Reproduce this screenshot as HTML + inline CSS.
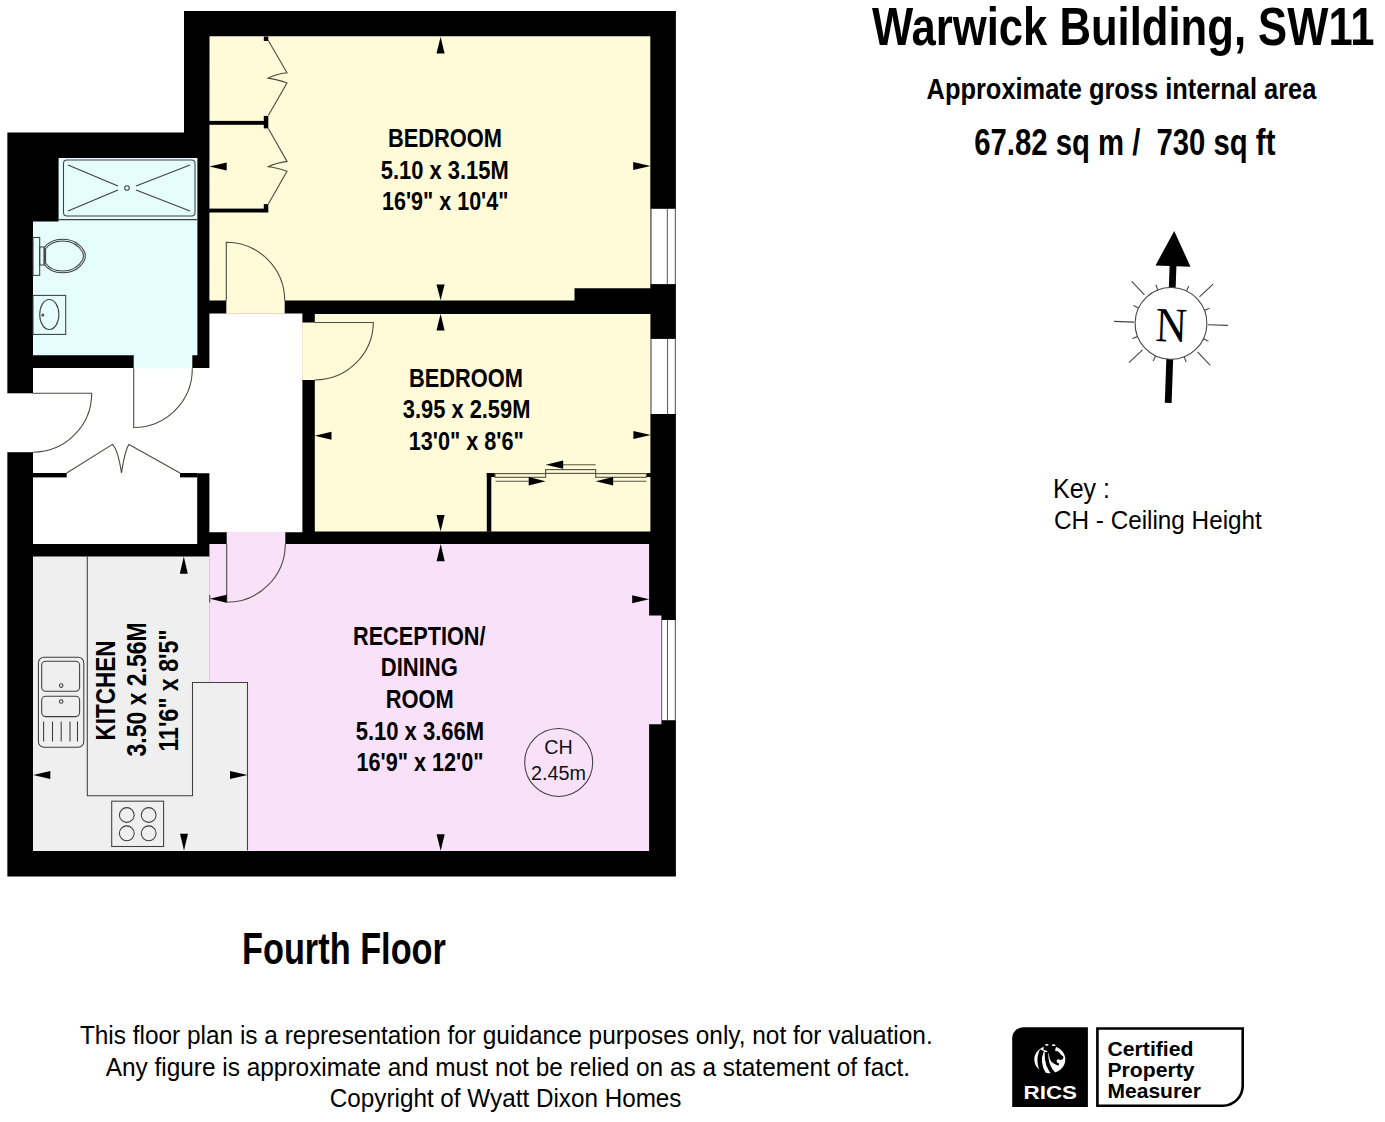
<!DOCTYPE html>
<html><head><meta charset="utf-8">
<style>
html,body{margin:0;padding:0;background:#fff;width:1385px;height:1122px;overflow:hidden;}
svg{display:block}
text{font-family:"Liberation Sans",sans-serif;}
.b{font-weight:bold}
</style></head><body>
<svg width="1385" height="1122" viewBox="0 0 1385 1122">
<rect width="1385" height="1122" fill="#fff"/>
<!-- building footprint -->
<polygon points="7.35,132.6 184,132.6 184,10.9 675.9,10.9 675.9,876.4 7.35,876.4" fill="#000"/>
<!-- entry gap -->
<rect x="7" y="393.3" width="26" height="58.9" fill="#fff"/>

<!-- hall -->
<polygon fill="#fff" points="33,368 209.4,368 209.4,313.4 302.4,313.4 302.4,532.3 209.4,532.3 209.4,473.2 197.2,473.2 197.2,543.9 33,543.9"/>
<!-- bathroom -->
<polygon fill="#E6FDFE" points="58.6,157.9 197.4,157.9 197.4,355.2 192.3,355.2 192.3,368.3 133.7,368.3 133.7,355.2 33,355.2 33,221.4 58.6,221.4"/>
<!-- bedroom 1 -->
<polygon fill="#FFFAD8" points="209.5,36.2 650.3,36.2 650.3,288.3 574.5,288.3 574.5,300.5 284.7,300.5 284.7,313.7 226.3,313.7 226.3,300.5 209.4,300.5"/>
<!-- bedroom 2 -->
<polygon fill="#FFFAD8" points="314.8,313.9 650.4,313.9 650.4,531.4 314.8,531.4 314.8,380 302.1,380 302.1,322.5 314.8,322.5"/>
<!-- reception -->
<polygon fill="#FAE1FA" points="209.4,544 226.7,544 226.7,532 285.3,532 285.3,544 649.1,544 649.1,615.6 661.4,615.6 661.4,724.2 649.1,724.2 649.1,850.9 209.4,850.9"/>
<!-- kitchen -->
<polygon fill="#EFEFEF" points="33,556.6 209.7,556.6 209.7,682.5 247.5,682.5 247.5,850.9 33,850.9"/>
<!-- windows -->
<g fill="#fff">
<rect x="650.6" y="208.8" width="25.2" height="75.3"/>
<rect x="650.4" y="338.9" width="25.4" height="75.1"/>
<rect x="661.1" y="620" width="14.7" height="100.2"/>
</g>
<g stroke="#555" stroke-width="1">
<line x1="651.1" y1="208.8" x2="651.1" y2="284.1"/>
<line x1="667.3" y1="208.8" x2="667.3" y2="284.1"/>
<line x1="675.3" y1="208.8" x2="675.3" y2="284.1"/>
<line x1="651.1" y1="338.9" x2="651.1" y2="414"/>
<line x1="667.6" y1="338.9" x2="667.6" y2="414"/>
<line x1="675.3" y1="338.9" x2="675.3" y2="414"/>
<line x1="661.7" y1="620" x2="661.7" y2="720.2"/>
<line x1="667.5" y1="620" x2="667.5" y2="720.2"/>
<line x1="675.3" y1="620" x2="675.3" y2="720.2"/>
</g>

<!-- cupboard walls -->
<g fill="#000">
<rect x="33" y="473" width="33.7" height="4.4"/>
<rect x="180" y="473" width="17.4" height="4.4"/>
<!-- bedroom1 wardrobe shelves -->
<rect x="209" y="120.9" width="55" height="3.9"/>
<rect x="209" y="208.6" width="55" height="3.9"/>
<rect x="263.8" y="36.5" width="4.5" height="4.5"/>
<rect x="263.8" y="115.9" width="4.5" height="12.5"/>
<rect x="263.8" y="204.1" width="4.5" height="8.4"/>
<!-- bedroom2 wardrobe -->
<rect x="486.8" y="473.1" width="4.5" height="58.6"/>
<rect x="486.8" y="473.1" width="8.2" height="3.9"/>
<rect x="646.4" y="473.1" width="4.4" height="3.9"/>
</g>

<!-- door leaves & arcs -->
<g fill="none" stroke="#4d4a42" stroke-width="1.1">
<!-- entry -->
<path d="M32.8,393.3 H91.7 A58.9,58.9 0 0 1 32.8,452.2"/>
<!-- bathroom -->
<path d="M133.7,368.3 V427.5 A58.6,58.6 0 0 0 192.3,368.3"/>
<!-- bedroom1 -->
<path d="M226.3,300.7 V242.3 A58.4,58.4 0 0 1 284.7,300.7"/>
<!-- bedroom2 -->
<path d="M314.8,322.5 H373.4 A58.6,58.6 0 0 1 314.8,380"/>
<!-- reception/kitchen door -->
<path d="M226.7,543.9 V602.3 A58.6,58.6 0 0 0 285.3,543.9"/>
<line x1="209.7" y1="595" x2="209.7" y2="602.5"/>
<!-- cupboard bifold -->
<path d="M66.7,473 L112.5,444.4 Q118,450 121.5,473 Q125,450 129,444.4 L180,473"/>
<!-- bedroom1 bifold -->
<path d="M268.3,40.5 L287,72.8 Q276,74 268.3,78.1 Q276,79 287,83 L268.3,115.6"/>
<path d="M268.3,128.5 L287,161.4 Q276,163 268.3,166.7 Q276,167.5 287,171.2 L268.3,204.1"/>
</g>
<!-- sliding doors bedroom 2 -->
<g fill="none" stroke="#5a5540" stroke-width="1.15">
<rect x="495" y="473.6" width="50.6" height="3.7"/>
<rect x="545.6" y="469.6" width="50.1" height="3.8"/>
<rect x="595.7" y="473.6" width="50.7" height="3.7"/>
<line x1="563" y1="464.7" x2="595.7" y2="464.7"/>
<line x1="495.6" y1="481.2" x2="528.7" y2="481.2"/>
<line x1="613.2" y1="481.2" x2="646.4" y2="481.2"/>
</g>
<g fill="#000">
<polygon points="545.6,464.7 563.2,460.4 563.2,468.8"/>
<polygon points="545.6,481.2 528.7,477 528.7,485.4"/>
<polygon points="595.7,481.2 613.2,477 613.2,485.4"/>
</g>

<!-- bathroom fixtures -->
<g fill="none" stroke="#3e3e3e" stroke-width="1.05">
<line x1="58.6" y1="219.6" x2="197.3" y2="219.6"/>
<rect x="63.5" y="160" width="131.5" height="56" rx="3.5"/>
<path d="M68,165 L118,186 M68,211 L118,190 M190,165 L136,186 M190,211 L136,190"/>
<circle cx="127" cy="188" r="2.3"/>
<rect x="33" y="237.5" width="6.7" height="37.9"/>
<rect x="39.7" y="247" width="4.9" height="18"/>
<path d="M44,248 V264 Q50,273 63,272.8 Q78,272.5 84.6,260 Q86,256 84.6,252 Q78,239.5 63,239.3 Q50,239.3 44,248 Z"/>
<path d="M45.6,249 V263 Q51,271.2 63,271 Q76.5,270.8 82.8,259.5 Q84,256 82.8,252.5 Q76.5,241.3 63,241.1 Q51,241.1 45.6,249 Z"/>
<rect x="33" y="295.4" width="32.7" height="39"/>
<ellipse cx="49.3" cy="314.5" rx="9.6" ry="15"/>
<circle cx="42.8" cy="315" r="1"/>
</g>

<!-- kitchen fixtures -->
<g fill="none" stroke="#3e3e3e" stroke-width="1.05">
<path d="M87.3,556.6 V795.8 H192.5 V682.5 H247.5 V850.4"/>
<rect x="38.4" y="657.3" width="45.4" height="90" rx="5.6"/>
<rect x="41.7" y="661.2" width="37.9" height="30" rx="4"/>
<rect x="41.7" y="696.3" width="37.9" height="20.3" rx="4"/>
<circle cx="61.2" cy="685.6" r="1.8"/>
<circle cx="61.2" cy="701.5" r="1.8"/>
<path d="M43.6,721.6 V741.5 M52.5,721.6 V741.5 M61.2,721.6 V741.5 M70,721.6 V741.5 M77.5,721.6 V741.5"/>
<rect x="111.7" y="801.2" width="51.9" height="45.3"/>
<circle cx="126.8" cy="815" r="7.4"/>
<circle cx="148.7" cy="815" r="7.4"/>
<circle cx="126.8" cy="833.3" r="7.4"/>
<circle cx="148.7" cy="833.3" r="7.4"/>
<circle cx="558.7" cy="762.4" r="34"/>
</g>

<!-- dimension arrows -->
<g fill="#000">
<!-- bedroom1 -->
<polygon points="440.6,36.7 436.5,53.5 444.6,53.5"/>
<polygon points="440.6,300.3 436.5,284.4 444.6,284.4"/>
<polygon points="209.4,166.5 226.7,162.5 226.7,170.5"/>
<polygon points="650.6,166 633.2,162 633.2,170"/>
<!-- bedroom2 -->
<polygon points="440.6,313.7 436.5,330.5 444.6,330.5"/>
<polygon points="440.6,531.4 436.5,515 444.6,515"/>
<polygon points="314.8,435.7 331.5,431.7 331.5,439.7"/>
<polygon points="650.8,435.1 633.4,431.1 633.4,439.1"/>
<!-- reception -->
<polygon points="440.7,544 436.6,561.3 444.7,561.3"/>
<polygon points="440.7,850.8 436.6,834.2 444.7,834.2"/>
<polygon points="209.7,598.8 226.7,594.8 226.7,602.8"/>
<polygon points="649.2,599.3 632.2,595.3 632.2,603.3"/>
<!-- kitchen -->
<polygon points="183.8,556.6 179.8,573.8 187.8,573.8"/>
<polygon points="184,850.4 180,833.7 188,833.7"/>
<polygon points="33.2,775 50.3,771 50.3,779"/>
<polygon points="247.5,775 230,771 230,779"/>
</g>

<!-- room labels -->
<g class="b" font-size="25" text-anchor="middle" fill="#000" transform="translate(0,0.4)">
<text x="444.9" y="147.1" textLength="114" lengthAdjust="spacingAndGlyphs">BEDROOM</text>
<text x="444.7" y="178.5" textLength="128" lengthAdjust="spacingAndGlyphs">5.10 x 3.15M</text>
<text x="445.2" y="209.9" textLength="126.5" lengthAdjust="spacingAndGlyphs">16'9" x 10'4"</text>
<text x="466" y="386.5" textLength="114" lengthAdjust="spacingAndGlyphs">BEDROOM</text>
<text x="466.6" y="417.4" textLength="127.6" lengthAdjust="spacingAndGlyphs">3.95 x 2.59M</text>
<text x="466.2" y="449.7" textLength="115" lengthAdjust="spacingAndGlyphs">13'0" x 8'6"</text>
<text x="419.25" y="644.4" textLength="132.5" lengthAdjust="spacingAndGlyphs">RECEPTION/</text>
<text x="419.3" y="676" textLength="77" lengthAdjust="spacingAndGlyphs">DINING</text>
<text x="419.7" y="707.6" textLength="68" lengthAdjust="spacingAndGlyphs">ROOM</text>
<text x="419.9" y="739.3" textLength="128.5" lengthAdjust="spacingAndGlyphs">5.10 x 3.66M</text>
<text x="420" y="770.9" textLength="127" lengthAdjust="spacingAndGlyphs">16'9" x 12'0"</text>
</g>
<g class="b" font-size="27.5" text-anchor="middle" fill="#000">
<text transform="translate(115.1,690.5) rotate(-90)" x="0" y="0" textLength="100" lengthAdjust="spacingAndGlyphs">KITCHEN</text>
<text transform="translate(146,689.4) rotate(-90)" x="0" y="0" textLength="134" lengthAdjust="spacingAndGlyphs">3.50 x 2.56M</text>
<text transform="translate(177.9,690.5) rotate(-90)" x="0" y="0" textLength="122" lengthAdjust="spacingAndGlyphs">11'6" x 8'5"</text>
</g>
<g font-size="20" text-anchor="middle" fill="#111">
<text x="558.5" y="754" textLength="28.5" lengthAdjust="spacingAndGlyphs">CH</text>
<text x="558.5" y="779.5" textLength="55" lengthAdjust="spacingAndGlyphs">2.45m</text>
</g>

<!-- header -->
<g class="b" fill="#000">
<text x="872" y="44.7" font-size="53" textLength="502.5" lengthAdjust="spacingAndGlyphs">Warwick Building, SW11</text>
<text x="926.6" y="98.8" font-size="29" textLength="389.7" lengthAdjust="spacingAndGlyphs">Approximate gross internal area</text>
<text x="974.2" y="154.6" font-size="36" textLength="301.2" lengthAdjust="spacingAndGlyphs" xml:space="preserve">67.82 sq m /  730 sq ft</text>
<text x="242" y="964" font-size="44.5" textLength="203.9" lengthAdjust="spacingAndGlyphs">Fourth Floor</text>
</g>
<g fill="#000">
<text x="1053" y="497.7" font-size="28.5" textLength="57" lengthAdjust="spacingAndGlyphs">Key :</text>
<text x="1054" y="528.9" font-size="26.5" textLength="207.8" lengthAdjust="spacingAndGlyphs">CH - Ceiling Height</text>
<text x="79.9" y="1043.6" font-size="25.5" textLength="852.8" lengthAdjust="spacingAndGlyphs">This floor plan is a representation for guidance purposes only, not for valuation.</text>
<text x="105.7" y="1075.5" font-size="25.5" textLength="804.3" lengthAdjust="spacingAndGlyphs">Any figure is approximate and must not be relied on as a statement of fact.</text>
<text x="329.8" y="1106.6" font-size="25.5" textLength="351.7" lengthAdjust="spacingAndGlyphs">Copyright of Wyatt Dixon Homes</text>
</g>

<!-- compass -->
<g transform="rotate(2 1171 323.4)">
<g stroke="#000" stroke-width="1" fill="none">
<line x1="1171" y1="323.4" x2="1171" y2="403"/>
</g>
<path d="M1167.6,265 L1174.4,265 L1174.4,403 L1167.6,403 Z" fill="#000"/>
<polygon points="1171,231 1153.5,266 1188.5,266" fill="#000"/>
<g stroke="#444" stroke-width="1.1" fill="none">
<path d="M1114,323.4 H1134 M1208,323.4 H1228"/>
<path d="M1130.3,282.7 L1143.5,295.9 M1211.7,282.7 L1198.5,295.9 M1130.3,364.1 L1143.5,350.9 M1211.7,364.1 L1198.5,350.9"/>
<path d="M1154.5,285.3 L1156.9,291.1 M1187.5,285.3 L1185.1,291.1 M1154.5,361.5 L1156.9,355.7 M1187.5,361.5 L1185.1,355.7"/>
<path d="M1132.9,306.9 L1138.7,309.3 M1132.9,339.9 L1138.7,337.5 M1209.1,306.9 L1203.3,309.3 M1209.1,339.9 L1203.3,337.5"/>
</g>
<circle cx="1171" cy="323.4" r="35.9" fill="#fff" stroke="#444" stroke-width="1.1"/>
<text x="1171.5" y="341.6" style="font-family:'Liberation Serif',serif" font-size="49" text-anchor="middle" textLength="31.5" lengthAdjust="spacingAndGlyphs">N</text>
</g>

<!-- RICS logo -->
<path d="M1023.2,1027.2 H1087.9 V1107 H1012.2 V1038.2 A11,11 0 0 1 1023.2,1027.2 Z" fill="#000"/>
<path d="M1097.4,1028.5 H1242.7 V1085.7 A20,20 0 0 1 1222.7,1105.7 H1097.4 Z" fill="none" stroke="#000" stroke-width="2.6"/>
<g class="b" fill="#000" font-size="20.5">
<text x="1107.5" y="1055.9" textLength="86" lengthAdjust="spacingAndGlyphs">Certified</text>
<text x="1107.5" y="1077.3" textLength="87" lengthAdjust="spacingAndGlyphs">Property</text>
<text x="1107.5" y="1097.6" textLength="93.5" lengthAdjust="spacingAndGlyphs">Measurer</text>
</g>
<text x="1023.5" y="1098.5" class="b" font-size="18" fill="#fff" textLength="53.5" lengthAdjust="spacingAndGlyphs">RICS</text>
<g>
<ellipse cx="1049.8" cy="1059.5" rx="15.5" ry="13.8" fill="#fff"/>
<path d="M1042,1050.3 Q1036.2,1062 1044.5,1075.5" fill="none" stroke="#000" stroke-width="4.4"/>
<path d="M1046.5,1052 Q1045.5,1066.5 1055,1075" fill="none" stroke="#000" stroke-width="3.6"/>
<polygon fill="#000" points="1044,1043 1057,1043 1055,1050.7 1058.2,1051.4 1061.4,1055 1063.5,1056.8 1062.8,1059.3 1060.3,1060 1057.1,1062.8 1059.2,1063.5 1058.5,1065.7 1055,1064.2 1051.3,1061.8 1049.6,1058.3 1049,1054.3 1046.8,1050.7 1043.5,1050"/>
<circle cx="1058.4" cy="1061" r="1.8" fill="#fff"/>
<ellipse cx="1046.8" cy="1044.8" rx="1.8" ry="0.9" fill="#fff"/>
<ellipse cx="1053.7" cy="1045.2" rx="1.8" ry="0.9" fill="#fff"/>
</g>
</svg>
</body></html>
